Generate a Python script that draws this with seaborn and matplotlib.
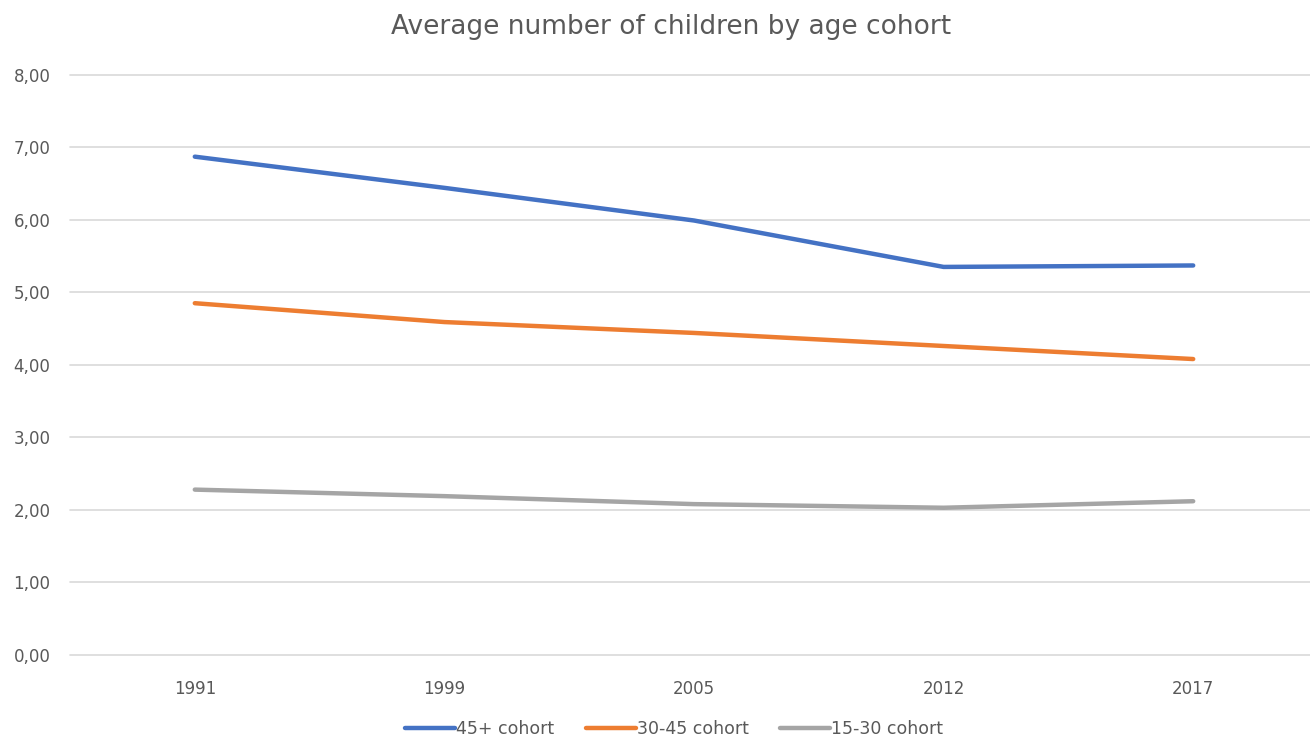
import matplotlib
matplotlib.use("Agg")
import matplotlib.pyplot as plt
import seaborn as sns
import pandas as pd
from matplotlib.ticker import FuncFormatter, MultipleLocator

years = ["1991", "1999", "2005", "2012", "2017"]
series_names = ["45+ cohort", "30-45 cohort", "15-30 cohort"]
cohort_45 = [6.87, 6.44, 5.99, 5.35, 5.37]
cohort_30 = [4.85, 4.59, 4.44, 4.26, 4.08]
cohort_15 = [2.28, 2.19, 2.08, 2.03, 2.12]
colors = ["#4472C4", "#ED7D31", "#A5A5A5"]

rows = []
for name, vals in zip(series_names, [cohort_45, cohort_30, cohort_15]):
    for y, v in zip(years, vals):
        rows.append({"year": y, "value": v, "series": name})
df = pd.DataFrame(rows)

sns.set_theme(style="white")
plt.rcParams["font.family"] = ["DejaVu Sans"]

fig = plt.figure(figsize=(13.10, 7.39), dpi=100)
ax = fig.add_axes([70 / 1310, 1 - 655 / 739, 1248 / 1310, (655 - 74.7) / 739])

sns.lineplot(data=df, x="year", y="value", hue="series", palette=colors,
             hue_order=series_names, linewidth=3.2, ax=ax, legend=True,
             solid_capstyle="round")

ax.set_xlim(-0.5, 4.5)
ax.set_ylim(0, 8)
ax.yaxis.set_major_locator(MultipleLocator(1))
ax.yaxis.set_major_formatter(FuncFormatter(lambda v, p: f"{v:.2f}".replace(".", ",")))
ax.grid(axis="y", color="#D9D9D9", linewidth=1.2)
ax.grid(axis="x", visible=False)
ax.set_axisbelow(True)
for s in ax.spines.values():
    s.set_visible(False)
ax.tick_params(axis="both", length=0, labelsize=12, colors="#595959")
ax.tick_params(axis="x", pad=18)
ax.tick_params(axis="y", pad=14)
ax.set_xlabel("")
ax.set_ylabel("")
for gl in ax.get_ygridlines():
    gl.set_clip_on(False)

fig.text(671 / 1310, 1 - 27 / 739, "Average number of children by age cohort",
         ha="center", va="center", fontsize=19, color="#595959")

handles, labels = ax.get_legend_handles_labels()
ax.legend(handles, labels, loc="center", bbox_to_anchor=(674 / 1310, 1 - 729 / 739),
          bbox_transform=fig.transFigure, ncol=3, frameon=False, fontsize=12.5,
          handlelength=2.9, handletextpad=0.05, columnspacing=1.8,
          labelcolor="#595959")

fig.savefig("out.png", dpi=100)
